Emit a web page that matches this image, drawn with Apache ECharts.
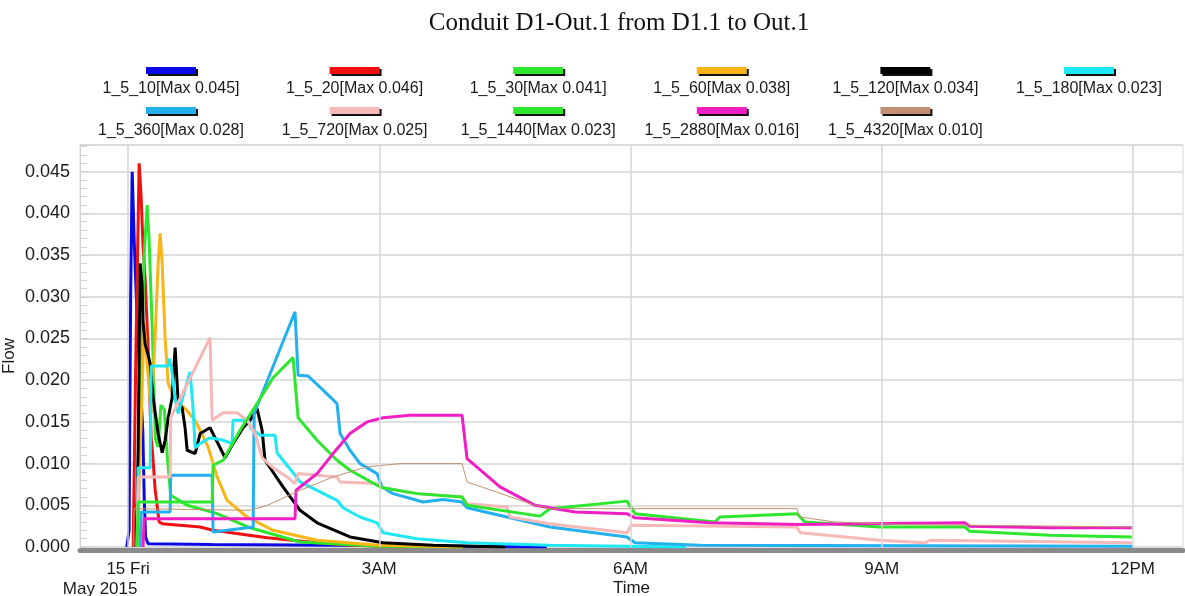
<!DOCTYPE html>
<html>
<head>
<meta charset="utf-8">
<title>Conduit D1-Out.1 from D1.1 to Out.1</title>
<script src="https://cdn.jsdelivr.net/npm/echarts@6/dist/echarts.min.js"></script>
<style>
  html, body { margin: 0; padding: 0; background: #fff; }
  #main { width: 1185px; height: 596px; }
</style>
</head>
<body>
<div id="main"></div>
<script>
// x = minutes after 15 May 2015 00:00, y = flow
const labels = ['1_5_10[Max 0.045]', '1_5_20[Max 0.046]', '1_5_30[Max 0.041]', '1_5_60[Max 0.038]',
    '1_5_120[Max 0.034]', '1_5_180[Max 0.023]', '1_5_360[Max 0.028]', '1_5_720[Max 0.025]',
    '1_5_1440[Max 0.023]', '1_5_2880[Max 0.016]', '1_5_4320[Max 0.010]']
const colors = ['#0a0ae6', '#f01010', '#2ee62e', '#fbb416', '#000000', '#1ee8f4',
    '#22b0ee', '#f7b8b8', '#2ee62e', '#f01ec4', '#c09070']

const tickMinutes = [0, 180, 360, 540, 720]
const tickLabels = ['15 Fri', '3AM', '6AM', '9AM', '12PM']

const s10 = [[-1, 0], [0.7, 0.002], [1.8, 0.03], [2.9, 0.045], [4.5, 0.036], [6.5, 0.027], [8.6, 0.02],
    [10.5, 0.014], [11.5, 0.006], [12.5, 0.0012], [14.3, 0.0004], [60, 0.0003], [150, 0.0002], [240, 0.0001], [300, 0]]
const s20 = [[3.6, 0], [5.7, 0.025], [7.9, 0.046], [9.3, 0.042], [10.7, 0.036], [12.2, 0.032], [14.3, 0.024],
    [16.5, 0.013], [17.5, 0.0113], [19.3, 0.007], [22.2, 0.003], [24.4, 0.0028], [51.6, 0.0024], [60.9, 0.002],
    [99.7, 0.0011], [135.4, 0.0005], [160, 0.0002], [200, 0]]
const s30 = [[6.4, 0], [9.3, 0.02], [11.5, 0.035], [13.6, 0.041], [15, 0.037], [17.5, 0.025], [19.5, 0.013],
    [21.5, 0.012], [23.5, 0.017], [26, 0.0165], [28, 0.011], [30.5, 0.0062], [42.3, 0.005], [63.8, 0.004],
    [87.4, 0.0023], [123.2, 0.0006], [180, 0.0001], [240, 0]]
const s60 = [[6.4, 0], [9.3, 0.015], [11.5, 0.027], [13.6, 0.022], [16.5, 0.016], [19.3, 0.025], [21.5, 0.034],
    [22.9, 0.0376], [24.4, 0.034], [26.5, 0.025], [28.7, 0.0196], [33.7, 0.0175], [40.8, 0.0166], [48, 0.0152],
    [57.3, 0.012], [63.8, 0.0084], [70.9, 0.0056], [85.3, 0.0036], [103.9, 0.002], [135.4, 0.0008], [180, 0.0002], [240, 0]]
const s120 = [[5.7, 0], [7.2, 0.012], [8.6, 0.034], [9.3, 0.034], [10, 0.0315], [10.7, 0.027], [12.2, 0.0243],
    [13.6, 0.0235], [15.8, 0.022], [17.9, 0.0179], [21.5, 0.0136], [24.4, 0.0113], [26.5, 0.0128], [28.7, 0.0155],
    [31.5, 0.0179], [33.7, 0.0239], [35.8, 0.0175], [38.7, 0.0167], [40.8, 0.0143], [42.3, 0.0116], [48, 0.0112],
    [51.6, 0.0136], [58.7, 0.0143], [62.3, 0.0131], [69.5, 0.0107], [75.2, 0.0124], [82.4, 0.0143], [87.4, 0.0152],
    [92.4, 0.0166], [96, 0.014], [98.1, 0.0104], [101.7, 0.0095], [111, 0.0072], [123.2, 0.0044], [135.4, 0.0029],
    [159, 0.0012], [182.7, 0.0005], [218.5, 0.0002], [270, 0]]
const s180 = [[6.4, 0], [7.2, 0.0095], [15.8, 0.0095], [16.5, 0.0217], [28.7, 0.0217], [29.4, 0.0226], [31, 0.0215],
    [33.7, 0.0178], [35.8, 0.016], [44.4, 0.021], [46.5, 0.0167], [48, 0.0119], [51.6, 0.0124], [58.7, 0.0131],
    [68.1, 0.0128], [74.5, 0.0124], [75.2, 0.0152], [86, 0.0152], [88, 0.0142], [94.6, 0.0134], [105.3, 0.0134],
    [106.7, 0.0113], [118.2, 0.0089], [123.2, 0.0078], [135.4, 0.0068], [149.7, 0.0056], [154, 0.0047],
    [166.2, 0.0036], [178.4, 0.0029], [182.7, 0.0017], [207, 0.001], [242.9, 0.0005], [302, 0.0002], [400, 0]]
const s360 = [[8.6, 0], [9.3, 0.0042], [30.1, 0.0042], [30.5, 0.0086], [60.2, 0.0086], [60.9, 0.0018], [89.6, 0.0024],
    [90.3, 0.016], [119.6, 0.0282], [121.8, 0.0206], [129, 0.0205], [139.7, 0.0188], [149.7, 0.0172], [151.9, 0.0136],
    [159, 0.0116], [166.2, 0.01], [178.4, 0.0088], [182, 0.0072], [189.8, 0.0064], [207, 0.0056], [211.3, 0.0054],
    [225.7, 0.0057], [239.3, 0.0054], [242.9, 0.0047], [271.5, 0.0036], [302.3, 0.0024], [357.5, 0.0012],
    [363.2, 0.0005], [410, 0.0002], [720, 0.0001]]
const s720 = [[6.4, 0], [7.2, 0.0084], [30.1, 0.0084], [30.5, 0.0155], [58.7, 0.0251], [60.2, 0.0152], [68, 0.0161],
    [78, 0.0161], [85.3, 0.0152], [91, 0.0136], [96, 0.0107], [103.9, 0.0095], [113.9, 0.0084], [119.6, 0.0076],
    [121.8, 0.0088], [149.7, 0.0084], [151.9, 0.0078], [178.4, 0.0076], [182.7, 0.0071], [207, 0.0064],
    [239.3, 0.006], [242.9, 0.0052], [271.5, 0.0048], [273.7, 0.0036], [302, 0.0028], [357.5, 0.0017],
    [360.5, 0.0026], [479, 0.0024], [482, 0.0017], [538.7, 0.0008], [571, 0.0005], [574.6, 0.0008], [719.3, 0.0005]]
const s1440 = [[6.4, 0], [7.2, 0.0054], [60.2, 0.0054], [60.9, 0.0098], [68.1, 0.0104], [80.2, 0.014], [92.4, 0.0172],
    [103.9, 0.0203], [118.2, 0.0227], [119.6, 0.0229], [121.8, 0.0155], [135.4, 0.0128], [149.7, 0.0104],
    [159, 0.0092], [178.4, 0.0074], [182.7, 0.0071], [207, 0.0064], [239.3, 0.006], [242.9, 0.005], [295.2, 0.0037],
    [302.3, 0.0046], [357.5, 0.0055], [363.2, 0.004], [420.5, 0.003], [424, 0.0036], [479.3, 0.004], [485, 0.003],
    [538.7, 0.0024], [599.6, 0.0024], [603, 0.0019], [660.5, 0.0014], [719.3, 0.0012]]
const s2880 = [[10.7, 0], [11.5, 0.0034], [119.6, 0.0034], [120.3, 0.0068], [135.4, 0.0088], [146.9, 0.0112],
    [159, 0.0136], [171.2, 0.015], [182.7, 0.0155], [202, 0.0158], [239.3, 0.0158], [242.9, 0.0106], [266.5, 0.0072],
    [291.6, 0.005], [320.2, 0.0042], [357.5, 0.004], [363.2, 0.0035], [417, 0.0029], [481.4, 0.0027],
    [599.6, 0.0029], [603, 0.0025], [660.5, 0.0023], [719.3, 0.0023]]
const s4320 = [[3.6, 0], [4.3, 0.0046], [87.4, 0.0044], [99.7, 0.005], [123.2, 0.0068], [146.9, 0.0084],
    [171.2, 0.0096], [194.9, 0.01], [239.3, 0.01], [242.9, 0.0078], [291.6, 0.005], [302.3, 0.0046],
    [479.3, 0.0046], [481.4, 0.0036], [506.5, 0.003], [553, 0.0027], [719.3, 0.0024]]

const allSeries = [s10, s20, s30, s60, s120, s180, s360, s720, s1440, s2880, s4320]

const chart = echarts.init(document.getElementById('main'))

let series = allSeries.map((d, i) => ({
    name: labels[i],
    type: 'line',
    data: d,
    showSymbol: false,
    smooth: false,
    z: 3,
    lineStyle: { color: colors[i], width: i === 10 ? 1 : 3 },
    itemStyle: { color: colors[i] }
}))

// vertical grid lines at the labelled hours
series.unshift({
    type: 'line',
    data: [],
    z: 1,
    markLine: {
        silent: true,
        symbol: 'none',
        label: { show: false },
        lineStyle: { color: '#d6d6d6', width: 1.5, type: 'solid' },
        data: tickMinutes.map(v => ({ xAxis: v }))
    }
})

// legend drawn as bar above label, 6 per row
let graphic = []
labels.forEach((lab, i) => {
    const col = i % 6
    const row = Math.floor(i / 6)
    const cx = 171 + col * 183.6
    graphic.push({
        type: 'rect',
        shape: { x: cx - 25, y: 67 + row * 40, width: 50, height: 7 },
        style: { fill: colors[i], shadowColor: '#111', shadowOffsetX: 2, shadowOffsetY: 2, shadowBlur: 0 }
    })
    graphic.push({
        type: 'text',
        x: cx,
        y: 89 + row * 42,
        style: {
            text: lab,
            font: '16px "Liberation Sans", Arial, sans-serif',
            fill: '#1a1a1a',
            align: 'center', verticalAlign: 'middle',
            textAlign: 'center', textVerticalAlign: 'middle'
        }
    })
})

let option = {
    animation: false,
    backgroundColor: '#fff',
    title: {
        text: 'Conduit D1-Out.1 from D1.1 to Out.1',
        left: 614,
        textAlign: 'center',
        top: 6,
        textStyle: { fontFamily: 'Liberation Serif', fontSize: 25, fontWeight: 'normal', color: '#111' }
    },
    graphic: graphic,
    grid: {
        left: 80, right: 2, top: 145, bottom: 49,
        outerBoundsMode: 'none',
        containLabel: false,
        show: true, borderColor: '#d6d6d6', borderWidth: 1
    },
    xAxis: {
        type: 'value',
        min: -34.5,
        max: 756,
        offset: 3,
        name: 'Time',
        nameLocation: 'middle',
        nameGap: 30,
        nameMoveOverlap: false,
        nameTextStyle: { fontFamily: 'Liberation Sans', fontSize: 17, color: '#1a1a1a' },
        axisLine: { show: true, onZero: false, lineStyle: { color: '#8a8a8a', width: 5 } },
        axisTick: { show: false },
        splitLine: { show: false },
        axisLabel: {
            customValues: tickMinutes,
            margin: 9,
            fontFamily: 'Liberation Sans',
            fontSize: 17,
            color: '#1a1a1a',
            lineHeight: 20,
            formatter: function (v) {
                const i = tickMinutes.indexOf(v)
                if (i === 0) return '{a|' + tickLabels[0] + '}\n{b|May 2015}'
                return i >= 0 ? tickLabels[i] : ''
            },
            rich: {
                a: { fontFamily: 'Liberation Sans', fontSize: 17, color: '#1a1a1a', lineHeight: 20, align: 'center' },
                b: { fontFamily: 'Liberation Sans', fontSize: 17, color: '#1a1a1a', lineHeight: 20, align: 'left', padding: [0, 56, 0, 0] }
            }
        }
    },
    yAxis: {
        type: 'value',
        min: 0,
        max: 0.0482,
        interval: 0.005,
        name: 'Flow',
        nameLocation: 'middle',
        nameGap: 62,
        nameMoveOverlap: false,
        nameTextStyle: { fontFamily: 'Liberation Sans', fontSize: 17, color: '#1a1a1a', padding: [0, 20, 0, 0] },
        axisLine: { show: true, onZero: false, lineStyle: { color: '#d0d0d0', width: 1 } },
        axisTick: { show: true, inside: true, length: 10, lineStyle: { color: '#d0d0d0' } },
        minorTick: { show: true, splitNumber: 5, length: 7, lineStyle: { color: '#d0d0d0' } },
        splitLine: { show: true, lineStyle: { color: '#d6d6d6', width: 1.5 } },
        axisLabel: {
            showMaxLabel: false,
            margin: 10,
            fontFamily: 'Liberation Sans',
            fontSize: 18,
            color: '#1a1a1a',
            formatter: v => v.toFixed(3)
        }
    },
    series: series
}

chart.setOption(option)
</script>
</body>
</html>
